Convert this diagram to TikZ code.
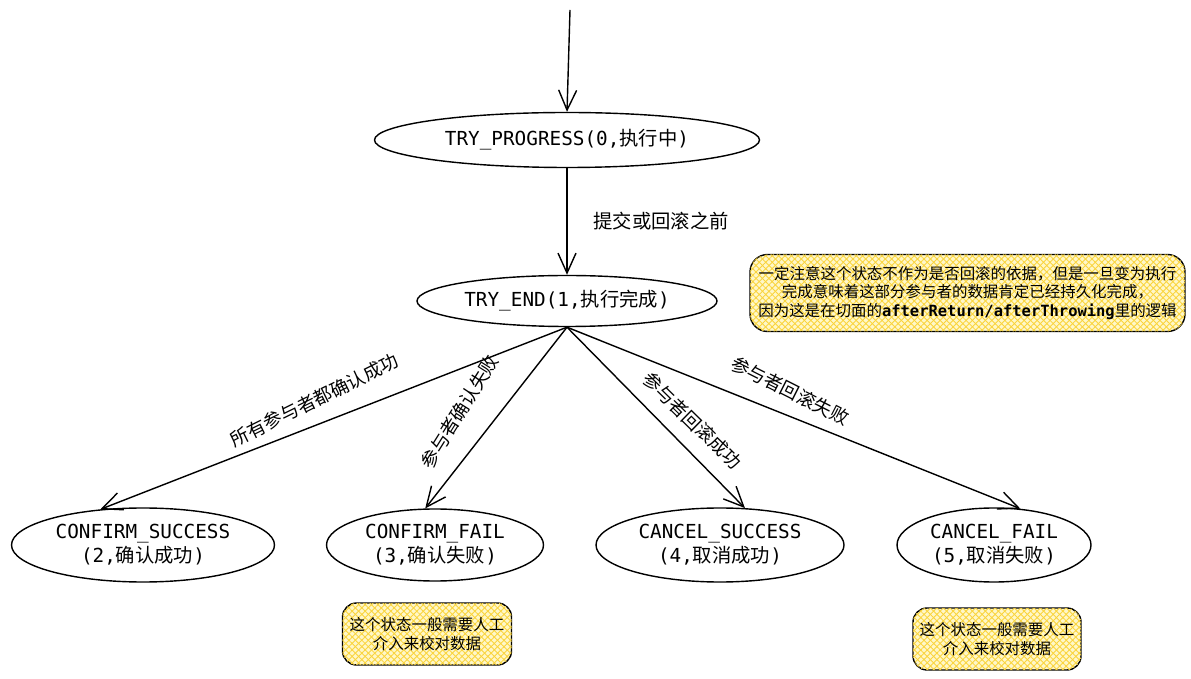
\documentclass[tikz,border=0pt]{standalone}
\usepackage{fontspec}
\setmonofont{DejaVu Sans Mono}
\newfontfamily\cjk{Noto Sans CJK SC}
\usetikzlibrary{positioning,shapes.geometric,arrows.meta,patterns.meta}
\definecolor{notefill}{RGB}{255,247,200}
\definecolor{notehatch}{RGB}{250,212,60}
\tikzset{
        state/.style={draw, ellipse, line width=0.8pt, inner sep=0pt, align=center, font=\ttfamily\fontsize{11}{13.6}\selectfont},
        note/.style={draw, rectangle, rounded corners=10pt, line width=0.8pt, fill=notefill,
            postaction={pattern={Lines[angle=45,distance=2.6pt,line width=0.5pt]}, pattern color=notehatch},
            postaction={pattern={Lines[angle=-45,distance=2.6pt,line width=0.5pt]}, pattern color=notehatch},
            align=center, font=\cjk\fontsize{8.8}{10.5}\selectfont},
        trans/.style={-{Straight Barb[length=4mm,width=3.6mm]}, line width=0.8pt},
        edgetext/.style={font=\cjk\fontsize{10.5}{12}\selectfont, sloped, above=5pt},
    }

\begin{document}
\begin{tikzpicture}

        \useasboundingbox (0,0) rectangle (23.82,-13.58);

        % Stati principali
        \coordinate (start) at (11.40,-0.20);
        \node[state, minimum width=7.7cm, minimum height=1.1cm] (tryprog) at (11.34,-2.80) {TRY\_PROGRESS(0,{\cjk 执行中})};
        \node[state, minimum width=6cm, minimum height=1.02cm] (tryend) at (11.34,-6.02) {TRY\_END(1,{\cjk 执行完成})};

        % Stati finali
        \node[state, minimum width=5.26cm, minimum height=1.48cm] (csucc) at (2.86,-10.90) {CONFIRM\_SUCCESS\\(2,{\cjk 确认成功})};
        \node[state, minimum width=4.34cm, minimum height=1.44cm] (cfail) at (8.70,-10.90) {CONFIRM\_FAIL\\(3,{\cjk 确认失败})};
        \node[state, minimum width=4.96cm, minimum height=1.48cm] (ksucc) at (14.40,-10.90) {CANCEL\_SUCCESS\\(4,{\cjk 取消成功})};
        \node[state, minimum width=3.88cm, minimum height=1.48cm] (kfail) at (19.88,-10.90) {CANCEL\_FAIL\\(5,{\cjk 取消失败})};

        % Note
        \node[note, minimum width=8.7cm, minimum height=1.54cm] (endnote) at (19.35,-5.86) {一定注意这个状态不作为是否回滚的依据，但是一旦变为执行\\完成意味着这部分参与者的数据肯定已经持久化完成，\\因为这是在切面的{\ttfamily\bfseries afterReturn/afterThrowing}里的逻辑};
        \node[note, minimum width=3.38cm, minimum height=1.24cm, rounded corners=8pt] (cfailnote) at (8.54,-12.68) {这个状态一般需要人工\\介入来校对数据};
        \node[note, minimum width=3.36cm, minimum height=1.24cm, rounded corners=8pt] (kfailnote) at (19.94,-12.78) {这个状态一般需要人工\\介入来校对数据};

        % Transizioni
        \draw[trans] (start) -- (tryprog.north);
        \draw[trans] (tryprog.south) -- (tryend.north)
            node[pos=0.5, right=0.4cm, font=\cjk\fontsize{11}{13}\selectfont] (beforelbl) {提交或回滚之前};
        \draw[trans] (tryend.south) -- (csucc.140)
            node[edgetext, pos=0.52, rotate=5] (csucclbl) {所有参与者都确认成功};
        \draw[trans] (tryend.south) -- (cfail.105)
            node[edgetext, pos=0.57, rotate=6, above=10pt] (cfaillbl) {参与者确认失败};
        \draw[trans] (tryend.south) -- (ksucc.56)
            node[edgetext, pos=0.61, rotate=1] (ksucclbl) {参与者回滚成功};
        \draw[trans] (tryend.south) -- (kfail.54)
            node[edgetext, pos=0.47, rotate=-5] (kfaillbl) {参与者回滚失败};

    \end{tikzpicture}
\end{document}
